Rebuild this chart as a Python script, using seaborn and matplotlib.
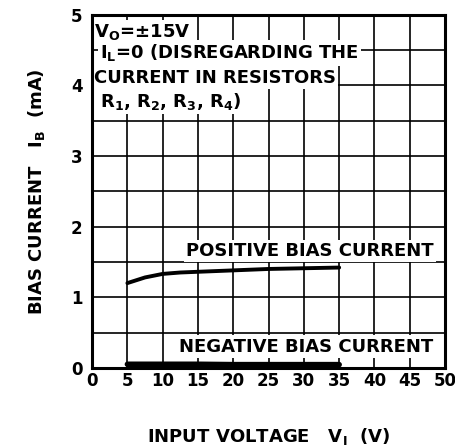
import numpy as np
import pandas as pd
import matplotlib
matplotlib.use("Agg")
import matplotlib.pyplot as plt
import seaborn as sns

sns.set_style("white")
plt.rcParams["font.family"] = ["DejaVu Sans"]
plt.rcParams.update({"text.color": "black", "axes.labelcolor": "black",
                     "xtick.color": "black", "ytick.color": "black"})

# curve data
pos_vin = [5, 7.5, 10, 12.5, 15, 20, 25, 30, 35]
pos_ib = [1.20, 1.28, 1.33, 1.35, 1.36, 1.38, 1.40, 1.41, 1.42]
neg_vin = [5, 10, 15, 20, 25, 30, 35]
neg_ib = [0.05, 0.05, 0.05, 0.045, 0.045, 0.045, 0.045]

x_ticks = [0, 5, 10, 15, 20, 25, 30, 35, 40, 45, 50]
y_ticks = [0, 1, 2, 3, 4, 5]

pos = pd.DataFrame({"vin": pos_vin, "ib": pos_ib})
neg = pd.DataFrame({"vin": neg_vin, "ib": neg_ib})

fig = plt.figure(figsize=(4.56, 4.48), dpi=100)
ax = fig.add_axes([0.202, 0.179, 0.774, 0.788])

ax.set_xlim(0, 50)
ax.set_ylim(0, 5)
ax.set_xticks(x_ticks)
ax.set_yticks(y_ticks)
ax.set_yticks(np.arange(0.5, 5, 1.0), minor=True)
ax.grid(which="both", color="black", linewidth=1.2)
ax.tick_params(axis="x", which="both", length=0, labelsize=12, pad=3)
ax.tick_params(axis="y", which="both", length=0, labelsize=12, pad=7)
for lab in ax.get_xticklabels() + ax.get_yticklabels():
    lab.set_fontweight("bold")
for s in ax.spines.values():
    s.set_linewidth(2.2)
    s.set_color("black")
    s.set_zorder(5)

sns.lineplot(data=pos, x="vin", y="ib", ax=ax, color="black", linewidth=2.8)
sns.lineplot(data=neg, x="vin", y="ib", ax=ax, color="black", linewidth=4)

bg = dict(facecolor="white", edgecolor="none", pad=1.5)
txt = dict(fontsize=13, fontweight="bold", va="center", ha="left")
ax.text(0.25, 4.75, r"V$_\mathregular{O}$=±15V", bbox=bg, **txt)
ax.text(1.1, 4.46, r"I$_\mathregular{L}$=0 (DISREGARDING THE", bbox=bg, **txt)
ax.text(0.25, 4.11, "CURRENT IN RESISTORS", bbox=bg, **txt)
ax.text(1.1, 3.77, r"R$_\mathregular{1}$, R$_\mathregular{2}$, R$_\mathregular{3}$, R$_\mathregular{4}$)", bbox=bg, **txt)
ax.text(13.3, 1.65, "POSITIVE BIAS CURRENT", bbox=bg, **txt)
ax.text(12.3, 0.3, "NEGATIVE BIAS CURRENT", bbox=bg, **txt)

ax.set_xlabel(r"INPUT VOLTAGE   V$_\mathregular{I}$  (V)", fontsize=13, fontweight="bold", labelpad=26)
ax.set_ylabel(r"BIAS CURRENT   I$_\mathregular{B}$  (mA)", fontsize=13, fontweight="bold", labelpad=17)

fig.savefig("out.png", dpi=100)
